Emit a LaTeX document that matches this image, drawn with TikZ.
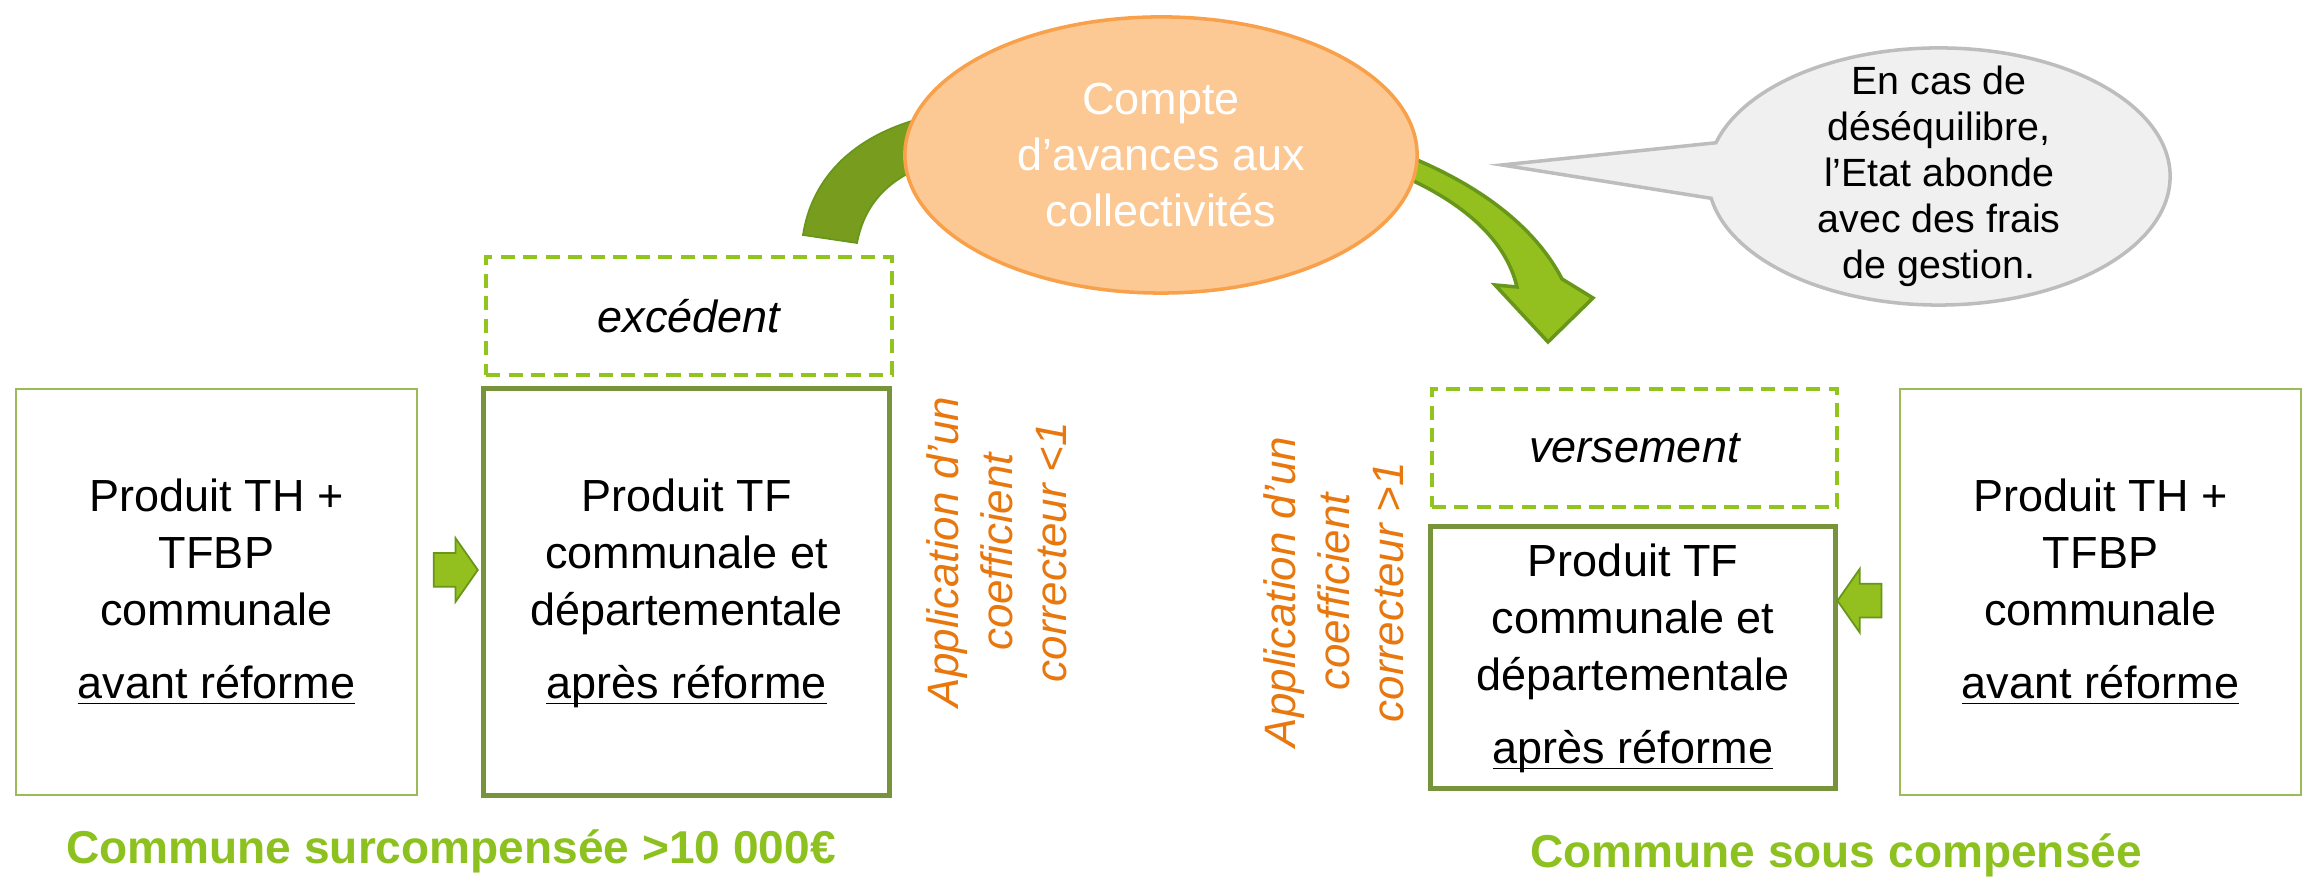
\documentclass[tikz,border=0pt]{standalone}
\usepackage{fontspec}
\setmainfont{Liberation Sans}
\usetikzlibrary{shapes.geometric,shapes.callouts,shapes.arrows,calc}

\definecolor{vertclair}{HTML}{9BBB59}
\definecolor{vertfonce}{HTML}{77933C}
\definecolor{vertpointille}{HTML}{92C41E}
\definecolor{vertlegende}{HTML}{8CC11F}
\definecolor{vertarc}{HTML}{789D1E}
\definecolor{vertfleche}{HTML}{93C01F}
\definecolor{vertcontour}{HTML}{67961A}
\definecolor{orangetexte}{HTML}{E8770E}
\definecolor{orangefond}{HTML}{FCC893}
\definecolor{orangebord}{HTML}{F9A04A}
\definecolor{grisfond}{HTML}{F0F0F0}
\definecolor{grisbord}{HTML}{BDBDBD}

\newcommand{\souligne}[1]{\underline{\smash{#1}}}

\tikzset{
  textecase/.style={align=center, font={\fontsize{12.8}{16.2}\selectfont}},
  avant/.style={textecase, draw=vertclair, line width=0.7pt, minimum width=4.01cm, minimum height=4.06cm},
  apres/.style={textecase, draw=vertfonce, line width=1.4pt, minimum width=4.05cm},
  pointille/.style={textecase, draw=vertpointille, line width=1.1pt, dash pattern=on 4pt off 2.4pt, minimum width=4.05cm, minimum height=1.18cm, font={\fontsize{12.8}{16.2}\selectfont\itshape}},
  coefficient/.style={rotate=90, align=center, text=orangetexte, font={\fontsize{12.5}{15.4}\selectfont\itshape}},
  petitefleche/.style={single arrow, fill=vertfleche, draw=vertcontour, line width=0.5pt, inner xsep=0.1cm, inner ysep=0.16cm, minimum height=0.44cm, single arrow head extend=0.15cm, single arrow tip angle=110},
  legende/.style={anchor=base, text=vertlegende, font={\fontsize{13.1}{15}\selectfont\bfseries}}
}

\begin{document}
\begin{tikzpicture}[x=0.01cm, y=0.01cm]
  \useasboundingbox (0,0) rectangle (2305,877);

  \node[avant] (avant1) at (216.5,285) {Produit TH +\\ TFBP\\ communale\\[4.6pt] \souligne{avant réforme}};
  \node[apres, minimum height=4.06cm] (apres1) at (686.5,285) {Produit TF\\ communale et\\ départementale\\[4.6pt] \souligne{après réforme}};
  \node[pointille] (excedent) at (689,561) {excédent};
  \node[petitefleche] (fleche1) at ($(avant1.east)!0.5!(apres1.west)+(0,22)$) {};
  \node[coefficient] (coefinf) at (997,325) {Application d’un\\ coefficient\\ correcteur <1};
  \node[legende] (surcomp) at (451,13) {Commune surcompensée >10 000€};

  \node[avant] (avant2) at (2100.5,285) {Produit TH +\\ TFBP\\ communale\\[4.6pt] \souligne{avant réforme}};
  \node[apres, minimum height=2.61cm] (apres2) at (1633,219.5) {Produit TF\\ communale et\\ départementale\\[4.6pt] \souligne{après réforme}};
  \node[pointille] (versement) at (1634.5,429) {versement};
  \node[petitefleche, shape border rotate=180] (fleche2) at ($(apres2.east)!0.5!(avant2.west)+(-3,24)$) {};
  \node[coefficient] (coefsup) at (1334,285) {Application d’un\\ coefficient\\ correcteur >1};
  \node[legende] (souscomp) at (1836,9) {Commune sous compensée};

  \fill[vertarc, draw=vertcontour, line width=0.5pt] (803,642) .. controls (812,700) and (855,745) .. (935,762)
    -- (935,715) .. controls (890,700) and (865,675) .. (857,634) -- cycle;
  \fill[vertfleche, draw=vertcontour, line width=1pt] (1405,722) .. controls (1480,692) and (1535,650) .. (1562,598)
    -- (1593,579) -- (1548,535) -- (1495,592) -- (1517,590)
    .. controls (1505,640) and (1460,675) .. (1405,700) -- cycle;

  \node[ellipse, fill=orangefond, draw=orangebord, line width=1pt, minimum width=5.12cm, minimum height=2.76cm, inner sep=0pt,
    text=white, align=center, font={\fontsize{12.8}{15.8}\selectfont}] (compte) at (1161,722) {Compte\\ d’avances aux\\ collectivités};

  \coordinate (pointe) at (1502,712);
  \node[ellipse callout, fill=grisfond, draw=grisbord, line width=1pt, minimum width=4.62cm, minimum height=2.57cm,
    callout absolute pointer=(pointe), callout pointer arc=25] (bulle) at (1939,700.5) {};
  \node[align=center, font={\fontsize{11.2}{13.1}\selectfont}] (textebulle) at (bulle.center) {En cas de\\ déséquilibre,\\ l’Etat abonde\\ avec des frais\\ de gestion.};
\end{tikzpicture}
\end{document}
